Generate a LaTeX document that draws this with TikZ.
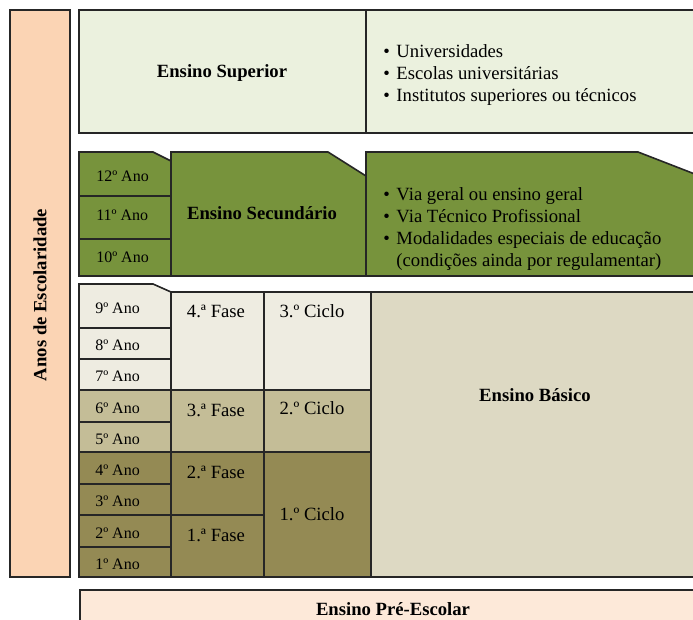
\documentclass[tikz,border=0pt]{standalone}
\usepackage{fontspec}
\setmainfont{Liberation Serif}
\usetikzlibrary{positioning}
\definecolor{escol}{HTML}{FBD4B4}
\definecolor{preesc}{HTML}{FDE9D9}
\definecolor{superior}{HTML}{EBF1DE}
\definecolor{secund}{HTML}{77933C}
\definecolor{basclaro}{HTML}{EEECE1}
\definecolor{basmedio}{HTML}{C4BD97}
\definecolor{basescuro}{HTML}{948A54}
\definecolor{basico}{HTML}{DDD9C3}
\definecolor{borda}{HTML}{262626}
\tikzset{caixa/.style={draw=borda, line width=1.2pt, line join=miter},
  ano/.style={inner sep=0pt, anchor=west, font=\fontsize{12}{14}\selectfont},
  txt/.style={inner sep=0pt, font=\fontsize{14}{17}\selectfont},
  lista/.style={inner sep=0pt, anchor=west, align=left, font=\fontsize{14}{16.5}\selectfont},
  tit/.style={inner sep=0pt, font=\fontsize{14}{17}\selectfont\bfseries}}
\newcommand{\marca}{\textbullet\hspace{5pt}}

\begin{document}
\begin{tikzpicture}[x=0.75pt,y=-0.75pt]
\useasboundingbox (0,0) rectangle (693,620);
\clip (0,0) rectangle (693,620);
% anos de escolaridade
\filldraw[caixa,fill=escol] (10,10) rectangle (70,577);
\node[tit,rotate=90] (anos) at (40,295) {Anos de Escolaridade};
% ensino superior
\filldraw[caixa,fill=superior] (79,10) rectangle (705,133);
\draw[caixa] (366,10) -- (366,133);
\node[tit] (sup) at (222,73) {Ensino Superior};
\node[lista] (supl) at (383,75) {\marca Universidades\\
\marca Escolas universitárias\\
\marca Institutos superiores ou técnicos};
% ensino secundario
\filldraw[caixa,fill=secund] (79,152) -- (153,152) -- (171,161) -- (171,276) -- (79,276) -- cycle;
\draw[caixa] (79,196) -- (171,196);
\draw[caixa] (79,239) -- (171,239);
\filldraw[caixa,fill=secund] (171,152) -- (328,152) -- (366,176) -- (366,276) -- (171,276) -- cycle;
\filldraw[caixa,fill=secund] (366,152) -- (638,152) -- (705,178) -- (705,276) -- (366,276) -- cycle;
\node[ano] (a12) at (96,176) {12º Ano};
\node[ano] (a11) at (96,215) {11º Ano};
\node[ano] (a10) at (96,257) {10º Ano};
\node[tit] (sec) at (262,213) {Ensino Secundário};
\node[lista] (secl) at (383,229) {\marca Via geral ou ensino geral\\
\marca Via Técnico Profissional\\
\marca Modalidades especiais de educação\\
\phantom{\marca}(condições ainda por regulamentar)};
% ensino basico
\filldraw[caixa,fill=basclaro] (79,284) -- (153,284) -- (171,292) -- (171,328) -- (79,328) -- cycle;
\foreach \yt/\yb/\c in {328/359/basclaro, 359/390/basclaro, 390/422/basmedio, 422/452/basmedio,
  452/484/basescuro, 484/515/basescuro, 515/547/basescuro, 547/577/basescuro}
  \filldraw[caixa,fill=\c] (79,\yt) rectangle (171,\yb);
\foreach \yt/\yb/\c in {292/390/basclaro, 390/452/basmedio, 452/515/basescuro, 515/577/basescuro}
  \filldraw[caixa,fill=\c] (171,\yt) rectangle (264,\yb);
\foreach \yt/\yb/\c in {292/390/basclaro, 390/452/basmedio, 452/577/basescuro}
  \filldraw[caixa,fill=\c] (264,\yt) rectangle (371,\yb);
\filldraw[caixa,fill=basico] (371,292) rectangle (705,577);
\node[ano] (a9) at (95,308) {9º Ano};
\node[ano] (a8) at (95,345) {8º Ano};
\node[ano] (a7) at (95,376) {7º Ano};
\node[ano] (a6) at (95,408) {6º Ano};
\node[ano] (a5) at (95,439) {5º Ano};
\node[ano] (a4) at (95,470) {4º Ano};
\node[ano] (a3) at (95,501) {3º Ano};
\node[ano] (a2) at (95,533) {2º Ano};
\node[ano] (a1) at (95,564) {1º Ano};
\node[txt] (f4) at (216,311) {4.ª Fase};
\node[txt] (f3) at (216,410) {3.ª Fase};
\node[txt] (f2) at (216,472) {2.ª Fase};
\node[txt] (f1) at (216,535) {1.ª Fase};
\node[txt] (c3) at (312,311) {3.º Ciclo};
\node[txt] (c2) at (312,408) {2.º Ciclo};
\node[txt] (c1) at (312,514) {1.º Ciclo};
\node[tit] (bas) at (535,395) {Ensino Básico};
% ensino pre-escolar
\filldraw[caixa,fill=preesc] (80,590) rectangle (705,640);
\node[tit] (pre) at (393,609) {Ensino Pré-Escolar};
\end{tikzpicture}
\end{document}
